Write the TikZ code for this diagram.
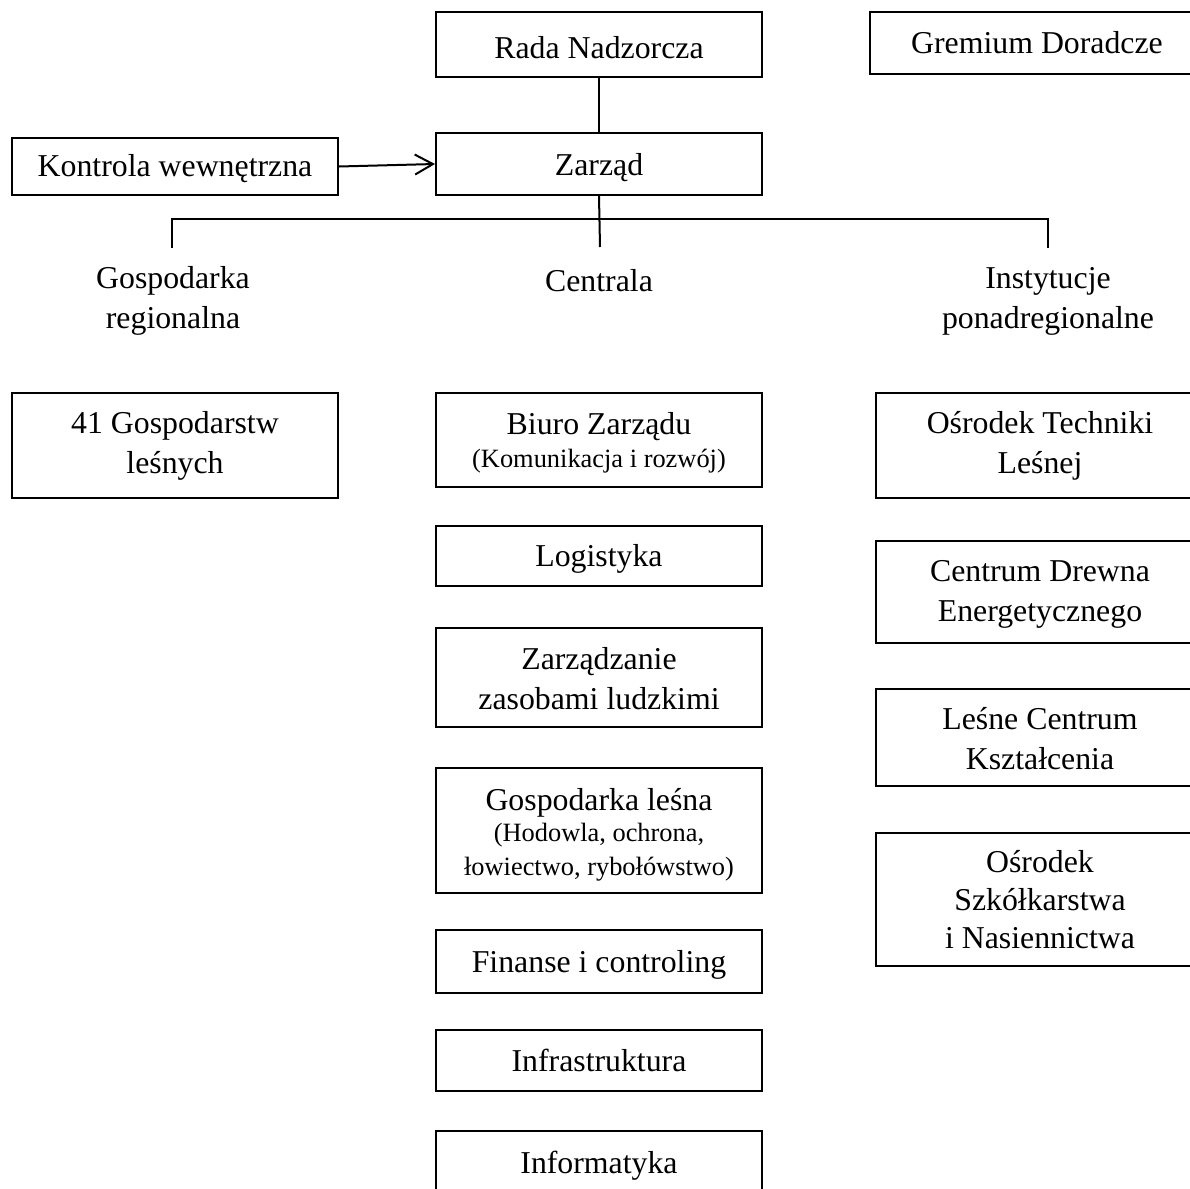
\documentclass[tikz,border=0pt]{standalone}
\usepackage{fontspec}
\setmainfont{Liberation Serif}
\usetikzlibrary{arrows.meta}
\newcommand{\bigf}{\fontsize{15.9}{20}\selectfont}
\newcommand{\smallf}{\fontsize{13.2}{16.5}\selectfont}
\begin{document}
\begin{tikzpicture}[x=0.5pt,y=-0.5pt,
  box/.style={draw,line width=1pt,rectangle,inner sep=0pt,minimum width=163pt},
  rbox/.style={box,minimum width=164pt},
  lbl/.style={inner sep=0pt,align=center,font=\bigf},
  conn/.style={line width=1pt}]
\useasboundingbox (0,0) rectangle (1190,1189);
\clip (0,0) rectangle (1190,1189);
% top row
\node[box,minimum height=32.5pt] (rada) at (599,44.5) {};
\node[lbl] (rada-t) at (599,47.5) {Rada Nadzorcza};
\node[box,minimum height=31pt,minimum width=167pt] (gremium) at (1037,43) {};
\node[lbl] (gremium-t) at (1037,43) {Gremium Doradcze};
\node[box,minimum height=28.5pt] (kontrola) at (175,166.5) {};
\node[lbl] (kontrola-t) at (175,168.5) {Kontrola wewnętrzna};
\node[box,minimum height=31pt] (zarzad) at (599,164) {};
\node[lbl] (zarzad-t) at (599,168) {Zarząd};
\draw[conn] (rada.south) -- (zarzad.north);
\draw[conn,-{Straight Barb[length=9pt,width=10pt,line width=1pt]}] (kontrola.east) -- (zarzad.west);
% tree
\coordinate (hl) at (172,219);
\coordinate (hr) at (1048,219);
\coordinate (tl) at (172,248);
\coordinate (tc) at (600,247);
\coordinate (tr) at (1048,248);
\draw[conn] (zarzad.south) -- (tc);
\draw[conn] (tl) -- (hl) -- (hr) -- (tr);
% group labels
\node[lbl] (greg) at (173,301) {Gospodarka\\regionalna};
\node[lbl] (centrala) at (599,281) {Centrala};
\node[lbl] (inst) at (1048,301) {Instytucje\\ponadregionalne};
% left column
\node[box,minimum height=52.5pt] (gl) at (175,445.5) {};
\node[lbl] (gl-t) at (175,445.5) {41 Gospodarstw\\leśnych};
% center column
\node[box,minimum height=47pt] (biuro) at (599,440) {};
\node[lbl] (biuro-t) at (599,442.5) {Biuro Zarządu\\[-3.5pt]{\smallf (Komunikacja i rozwój)}};
\node[box,minimum height=30pt] (logi) at (599,556) {};
\node[lbl] (logi-t) at (599,559) {Logistyka};
\node[box,minimum height=49.5pt] (zzl) at (599,677.5) {};
\node[lbl] (zzl-t) at (599,678.5) {Zarządzanie\\zasobami ludzkimi};
\node[box,minimum height=62.5pt] (gosl) at (599,830.5) {};
\node[lbl] (gosl-t) at (599,834.5) {Gospodarka leśna\\[-4.5pt]{\smallf (Hodowla, ochrona,}\\[-3pt]{\smallf łowiectwo, rybołówstwo)}};
\node[box,minimum height=31.5pt] (fin) at (599,961.5) {};
\node[lbl] (fin-t) at (599,964.5) {Finanse i controling};
\node[box,minimum height=30.5pt] (infra) at (599,1060.5) {};
\node[lbl] (infra-t) at (599,1060.5) {Infrastruktura};
\node[box,minimum height=31pt] (info) at (599,1162) {};
\node[lbl] (info-t) at (599,1166) {Informatyka};
% right column
\node[rbox,minimum height=52.5pt] (otl) at (1040,445.5) {};
\node[lbl] (otl-t) at (1040,445.5) {Ośrodek Techniki\\Leśnej};
\node[rbox,minimum height=51pt] (cde) at (1040,592) {};
\node[lbl] (cde-t) at (1040,594) {Centrum Drewna\\Energetycznego};
\node[rbox,minimum height=48.5pt] (lck) at (1040,737.5) {};
\node[lbl] (lck-t) at (1040,738.5) {Leśne Centrum\\Kształcenia};
\node[rbox,minimum height=66.5pt] (osn) at (1040,899.5) {};
\node[lbl] (osn-t) at (1040,899.5) {Ośrodek\\[-1pt]Szkółkarstwa\\[-1pt]i Nasiennictwa};
\end{tikzpicture}
\end{document}
